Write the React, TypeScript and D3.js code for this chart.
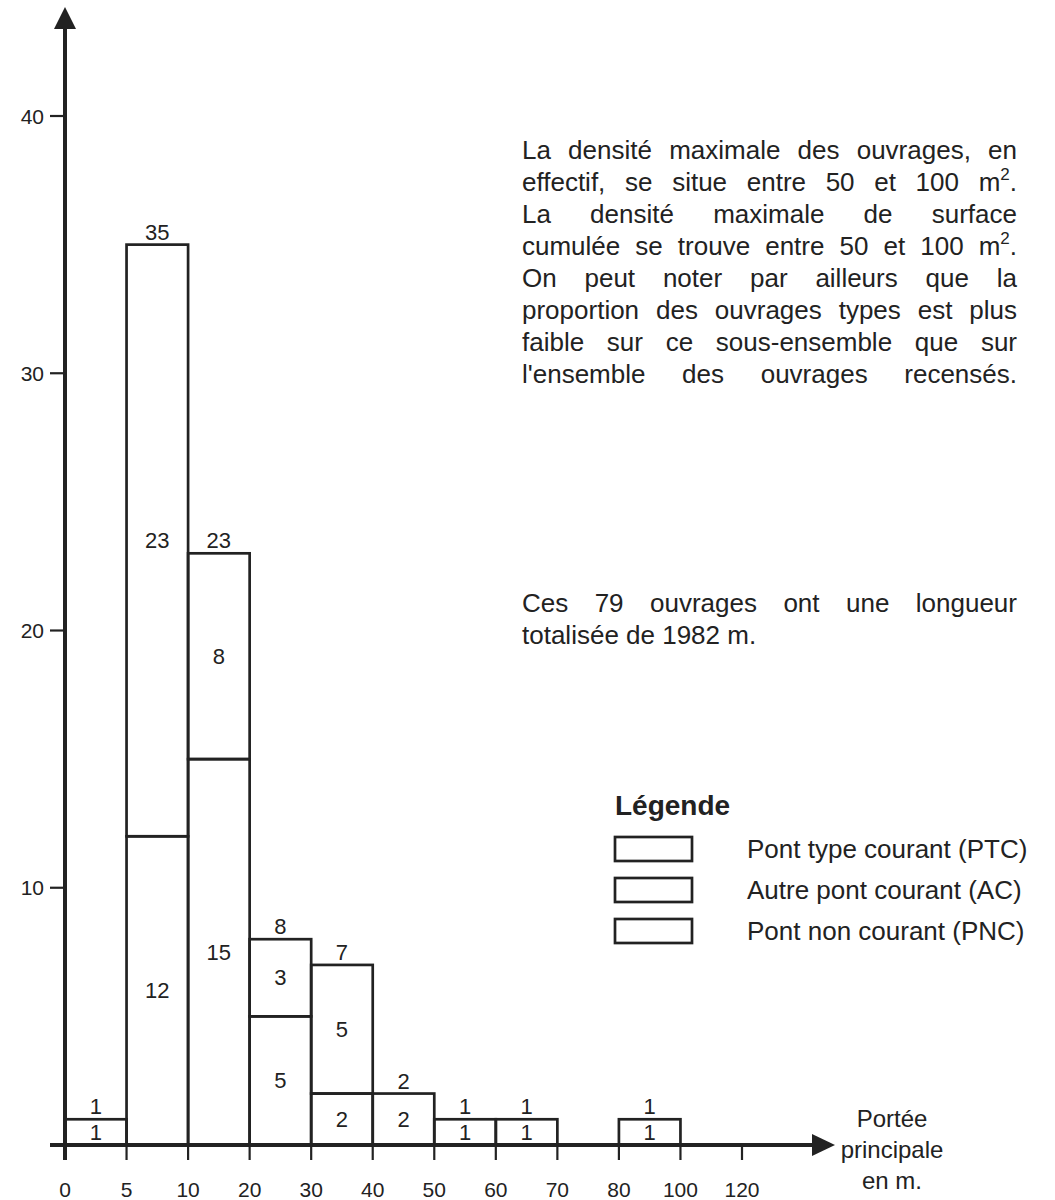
import React, { useMemo } from "react";
import * as d3 from "d3";

// ---- data ----
const edgeLabels = ["0", "5", "10", "20", "30", "40", "50", "60", "70", "80", "100", "120"];
const binStart = ["0", "5", "10", "20", "30", "40", "50", "60", "80"];
const binEnd = ["5", "10", "20", "30", "40", "50", "60", "70", "100"];
const ptcValues = [1, 12, 15, 5, 2, 2, 1, 1, 1];
const acValues = [0, 23, 8, 3, 5, 0, 0, 0, 0];
const totalValues = [1, 35, 23, 8, 7, 2, 1, 1, 1];
const yTicks = [10, 20, 30, 40];

const paragraph1 = [
  "La densité maximale des ouvrages, en",
  "effectif, se situe entre 50 et 100 m^2^.",
  "La densité maximale de surface",
  "cumulée se trouve entre 50 et 100 m^2^.",
  "On peut noter par ailleurs que la",
  "proportion des ouvrages types est plus",
  "faible sur ce sous-ensemble que sur",
  "l'ensemble des ouvrages recensés.",
];
const paragraph2 = ["Ces 79 ouvrages ont une longueur", "totalisée de 1982 m."];
const legendTitle = "Légende";
const legendItems = ["Pont type courant (PTC)", "Autre pont courant (AC)", "Pont non courant (PNC)"];
const xAxisTitle = ["Portée", "principale", "en m."];

const FONT = "'Liberation Sans', Arial, Helvetica, sans-serif";
const INK = "#222";

type Run = { t: string; sup: boolean };
function parseWord(w: string): Run[] {
  return w
    .split("^")
    .map((p, i) => ({ t: p, sup: i % 2 === 1 }))
    .filter((r) => r.t.length > 0);
}

let ctx: CanvasRenderingContext2D | null = null;
function measure(text: string, size: number): number {
  if (!ctx) ctx = document.createElement("canvas").getContext("2d");
  if (!ctx) return text.length * size * 0.5;
  ctx.font = `${size}px ${FONT}`;
  return ctx.measureText(text).width;
}

const BODY = 26;
const SUP = 17;
const SUP_RISE = 11;

function wordWidth(w: string) {
  return parseWord(w).reduce((s, r) => s + measure(r.t, r.sup ? SUP : BODY), 0);
}

function Word({ w, x, y }: { w: string; x: number; y: number }) {
  const runs = parseWord(w);
  return (
    <text x={x} y={y} fontSize={BODY} fill={INK} fontFamily={FONT}>
      {runs.map((r, i) =>
        r.sup ? (
          <tspan key={i} fontSize={SUP} dy={-SUP_RISE}>
            {r.t}
          </tspan>
        ) : (
          <tspan key={i} dy={i > 0 && runs[i - 1].sup ? SUP_RISE : 0}>
            {r.t}
          </tspan>
        )
      )}
    </text>
  );
}

function Line({ line, x0, x1, y, justify }: { line: string; x0: number; x1: number; y: number; justify: boolean }) {
  const words = line.split(" ");
  const widths = words.map(wordWidth);
  const total = widths.reduce((a, b) => a + b, 0);
  const space = measure(" ", BODY);
  const gap = justify && words.length > 1 ? (x1 - x0 - total) / (words.length - 1) : space;
  let x = x0;
  return (
    <g>
      {words.map((w, i) => {
        const el = <Word key={i} w={w} x={x} y={y} />;
        x += widths[i] + gap;
        return el;
      })}
    </g>
  );
}

export default function App() {
  const W = 1055;
  const H = 1200;
  const x = useMemo(() => d3.scalePoint<string>().domain(edgeLabels).range([65, 742]), []);
  const y = useMemo(() => d3.scaleLinear().domain([0, 40]).range([1145, 116]), []);
  const y0 = y(0);
  const axisX = x("0")!;

  const bins = binStart.map((s, i) => ({
    x0: x(s)!,
    x1: x(binEnd[i])!,
    ptc: ptcValues[i],
    ac: acValues[i],
    total: totalValues[i],
  }));

  const textX0 = 522;
  const textX1 = 1017;
  const LABEL = 22;

  return (
    <svg width={W} height={H} style={{ display: "block", position: "absolute", left: 0, top: 0, background: "#fff" }}>
      <rect x={0} y={0} width={W} height={H} fill="#fff" />
      {/* bars */}
      {bins.map((b, i) => {
        const cx = (b.x0 + b.x1) / 2;
        return (
          <g key={i}>
            <rect
              x={b.x0}
              y={y(b.ptc)}
              width={b.x1 - b.x0}
              height={y0 - y(b.ptc)}
              fill="none"
              stroke={INK}
              strokeWidth={2.7}
            />
            {b.ac > 0 && (
              <rect
                x={b.x0}
                y={y(b.ptc + b.ac)}
                width={b.x1 - b.x0}
                height={y(b.ptc) - y(b.ptc + b.ac)}
                fill="none"
                stroke={INK}
                strokeWidth={2.7}
              />
            )}
            <text x={cx} y={y(b.total) - 5} textAnchor="middle" fontSize={LABEL} fontFamily={FONT} fill={INK}>
              {b.total}
            </text>
            <text
              x={cx}
              y={(y(0) + y(b.ptc)) / 2}
              textAnchor="middle"
              dominantBaseline="central"
              fontSize={LABEL}
              fontFamily={FONT}
              fill={INK}
            >
              {b.ptc}
            </text>
            {b.ac > 0 && (
              <text
                x={cx}
                y={(y(b.ptc) + y(b.ptc + b.ac)) / 2}
                textAnchor="middle"
                dominantBaseline="central"
                fontSize={LABEL}
                fontFamily={FONT}
                fill={INK}
              >
                {b.ac}
              </text>
            )}
          </g>
        );
      })}

      {/* y axis */}
      <line x1={axisX} x2={axisX} y1={y0 + 15} y2={26} stroke={INK} strokeWidth={4} />
      <path d={`M${axisX},7 L${axisX - 11},29 L${axisX + 11},29 Z`} fill={INK} />
      {yTicks.map((t) => (
        <g key={t}>
          <line x1={axisX - 15} x2={axisX} y1={y(t)} y2={y(t)} stroke={INK} strokeWidth={2.2} />
          <text
            x={axisX - 21}
            y={y(t)}
            textAnchor="end"
            dominantBaseline="central"
            fontSize={21}
            fontFamily={FONT}
            fill={INK}
          >
            {t}
          </text>
        </g>
      ))}

      {/* x axis */}
      <line x1={50} x2={815} y1={y0} y2={y0} stroke={INK} strokeWidth={4} />
      <path d={`M835,${y0} L812,${y0 - 11} L812,${y0 + 11} Z`} fill={INK} />
      {edgeLabels.map((e) => (
        <g key={e}>
          <line x1={x(e)!} x2={x(e)!} y1={y0} y2={y0 + 15} stroke={INK} strokeWidth={2.2} />
          <text x={x(e)!} y={y0 + 52} textAnchor="middle" fontSize={21} fontFamily={FONT} fill={INK}>
            {e}
          </text>
        </g>
      ))}
      {xAxisTitle.map((t, i) => (
        <text key={t} x={892} y={1127 + i * 31} textAnchor="middle" fontSize={24} fontFamily={FONT} fill={INK}>
          {t}
        </text>
      ))}

      {/* paragraph text */}
      {paragraph1.map((l, i) => (
        <Line key={i} line={l} x0={textX0} x1={textX1} y={159 + i * 32} justify={true} />
      ))}
      {paragraph2.map((l, i) => (
        <Line key={i} line={l} x0={textX0} x1={textX1} y={612 + i * 32} justify={i === 0} />
      ))}

      {/* legend */}
      <text x={615} y={815} fontSize={28} fontWeight="bold" fontFamily={FONT} fill={INK}>
        {legendTitle}
      </text>
      {legendItems.map((t, i) => (
        <g key={t}>
          <rect x={615} y={837 + i * 41} width={77} height={24} fill="#fff" stroke={INK} strokeWidth={2.7} />
          <text x={747} y={858 + i * 41} fontSize={26} fontFamily={FONT} fill={INK}>
            {t}
          </text>
        </g>
      ))}
    </svg>
  );
}
